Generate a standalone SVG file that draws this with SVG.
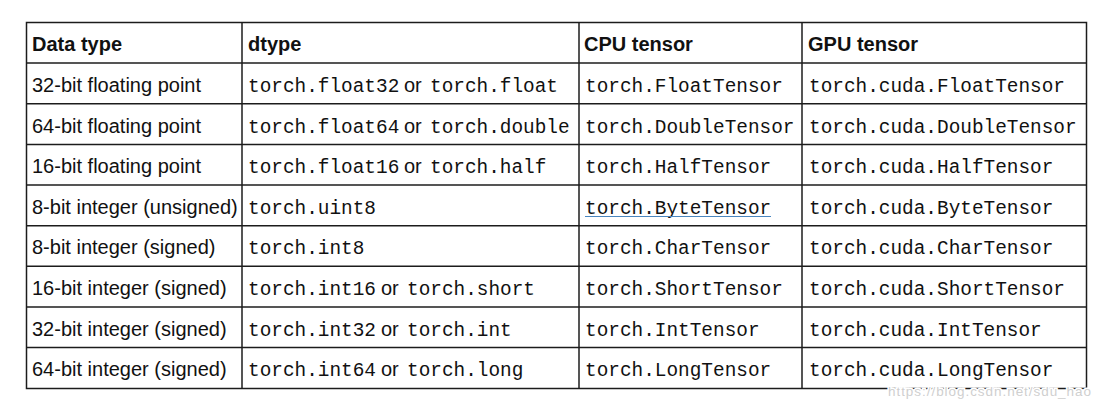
<svg xmlns="http://www.w3.org/2000/svg" width="1104" height="404" viewBox="0 0 1104 404">
<style>
.s{font-family:"Liberation Sans",Arial,sans-serif;font-size:20px;fill:#111}
.b{font-family:"Liberation Sans",Arial,sans-serif;font-size:20px;font-weight:bold;fill:#111}
.m{font-family:"Liberation Mono","Courier New",monospace;font-size:19.4px;fill:#111}
.g{stroke:#1c1c1c;stroke-width:1.5;fill:none}
.wm{font-family:"Liberation Sans",Arial,sans-serif;font-size:13.5px;fill:#cfcfcf;stroke:#fff;stroke-width:3;paint-order:stroke}
</style>
<rect width="1104" height="404" fill="#fff"/>
<g id="grid" class="g">
<rect x="26.5" y="22.5" width="1060" height="366"/>
<line x1="242" y1="22.5" x2="242" y2="388.5"/>
<line x1="579" y1="22.5" x2="579" y2="388.5"/>
<line x1="802" y1="22.5" x2="802" y2="388.5"/>
<line x1="26.5" y1="63.1" x2="1086.5" y2="63.1"/>
<line x1="26.5" y1="103.8" x2="1086.5" y2="103.8"/>
<line x1="26.5" y1="144.4" x2="1086.5" y2="144.4"/>
<line x1="26.5" y1="185.1" x2="1086.5" y2="185.1"/>
<line x1="26.5" y1="225.7" x2="1086.5" y2="225.7"/>
<line x1="26.5" y1="266.3" x2="1086.5" y2="266.3"/>
<line x1="26.5" y1="307" x2="1086.5" y2="307"/>
<line x1="26.5" y1="347.6" x2="1086.5" y2="347.6"/>
</g>
<g id="connectors"></g>
<g id="header">
<text class="b" x="32" y="50.7">Data type</text>
<text class="b" x="248" y="50.7">dtype</text>
<text class="b" x="584" y="50.7">CPU tensor</text>
<text class="b" x="808" y="50.7">GPU tensor</text>
</g>
<g id="row-float32">
<text class="s" x="32" y="91.8">32-bit floating point</text>
<text y="91.8"><tspan class="m" x="248">torch.float32</tspan><tspan class="s" x="404">or</tspan><tspan class="m" x="430">torch.float</tspan></text>
<text class="m" x="585" y="91.8">torch.FloatTensor</text>
<text class="m" x="809" y="91.8">torch.cuda.FloatTensor</text>
</g>
<g id="row-float64">
<text class="s" x="32" y="132.5">64-bit floating point</text>
<text y="132.5"><tspan class="m" x="248">torch.float64</tspan><tspan class="s" x="404">or</tspan><tspan class="m" x="430">torch.double</tspan></text>
<text class="m" x="585" y="132.5">torch.DoubleTensor</text>
<text class="m" x="809" y="132.5">torch.cuda.DoubleTensor</text>
</g>
<g id="row-float16">
<text class="s" x="32" y="173.1">16-bit floating point</text>
<text y="173.1"><tspan class="m" x="248">torch.float16</tspan><tspan class="s" x="404">or</tspan><tspan class="m" x="430">torch.half</tspan></text>
<text class="m" x="585" y="173.1">torch.HalfTensor</text>
<text class="m" x="809" y="173.1">torch.cuda.HalfTensor</text>
</g>
<g id="row-uint8">
<text class="s" x="32" y="213.8">8-bit integer (unsigned)</text>
<text class="m" x="248" y="213.8">torch.uint8</text>
<text class="m" x="585" y="213.8">torch.ByteTensor</text>
<line x1="585" y1="216.5" x2="771" y2="216.5" stroke="#4a86bf" stroke-width="1.2"/>
<text class="m" x="809" y="213.8">torch.cuda.ByteTensor</text>
</g>
<g id="row-int8">
<text class="s" x="32" y="254.4">8-bit integer (signed)</text>
<text class="m" x="248" y="254.4">torch.int8</text>
<text class="m" x="585" y="254.4">torch.CharTensor</text>
<text class="m" x="809" y="254.4">torch.cuda.CharTensor</text>
</g>
<g id="row-int16">
<text class="s" x="32" y="295">16-bit integer (signed)</text>
<text y="295"><tspan class="m" x="248">torch.int16</tspan><tspan class="s" x="381">or</tspan><tspan class="m" x="407">torch.short</tspan></text>
<text class="m" x="585" y="295">torch.ShortTensor</text>
<text class="m" x="809" y="295">torch.cuda.ShortTensor</text>
</g>
<g id="row-int32">
<text class="s" x="32" y="335.7">32-bit integer (signed)</text>
<text y="335.7"><tspan class="m" x="248">torch.int32</tspan><tspan class="s" x="381">or</tspan><tspan class="m" x="407">torch.int</tspan></text>
<text class="m" x="585" y="335.7">torch.IntTensor</text>
<text class="m" x="809" y="335.7">torch.cuda.IntTensor</text>
</g>
<g id="row-int64">
<text class="s" x="32" y="376.3">64-bit integer (signed)</text>
<text y="376.3"><tspan class="m" x="248">torch.int64</tspan><tspan class="s" x="381">or</tspan><tspan class="m" x="407">torch.long</tspan></text>
<text class="m" x="585" y="376.3">torch.LongTensor</text>
<text class="m" x="809" y="376.3">torch.cuda.LongTensor</text>
</g>
<text class="wm" x="888" y="396" textLength="203" lengthAdjust="spacing">https://blog.csdn.net/sdu_hao</text>
</svg>
